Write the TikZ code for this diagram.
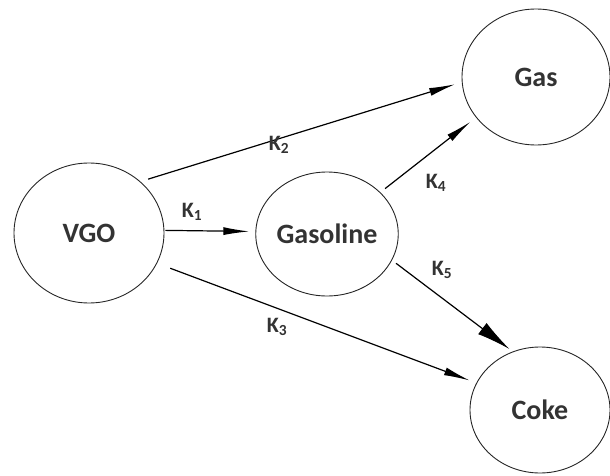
\documentclass[tikz,border=0pt]{standalone}
\usepackage{fontspec}
\setmainfont{Carlito}
\usetikzlibrary{shapes.geometric,arrows.meta}
\definecolor{txt}{HTML}{333333}
\tikzset{
  state/.style={draw=black!85, line width=0.9pt, ellipse, inner sep=0pt, font=\bfseries\fontsize{28}{30}\selectfont, text=txt},
  rate/.style={line width=1.2pt, -{Latex[length=26pt,width=8pt]}},
  klabel/.style={font=\bfseries\fontsize{22}{24}\selectfont, text=txt, inner sep=0pt}
}
\begin{document}
\begin{tikzpicture}[x=1pt,y=-1pt]
\useasboundingbox (0,0) rectangle (610,476);
\node[state, minimum width=150pt, minimum height=140pt] (vgo) at (89,233) {VGO};
\node[state, minimum width=136pt, minimum height=124pt] (gasoline) at (327,234) {Gasoline};
\node[state, minimum width=148pt, minimum height=136pt] (gas) at (536,77) {Gas};
\node[state, minimum width=140pt, minimum height=126pt] (coke) at (540,410) {Coke};

\draw[rate, shorten <=8pt, shorten >=7pt] (vgo.45) -- (gas.184);
\draw[rate, shorten <=1pt, shorten >=6pt] (vgo.2) -- (gasoline.178);
\draw[rate, shorten <=14pt, shorten >=7pt] (vgo.-24.5) -- (coke.157);
\draw[rate, shorten <=6pt, shorten >=7pt] (gasoline.38.8) -- (gas.214.7);
\draw[rate, shorten <=5pt, shorten >=4pt, -{Latex[length=34pt,width=14pt]}] (gasoline.-22.7) -- (coke.115.8);

\node[klabel] (k2) at (279,145) {K\textsubscript{2}};
\node[klabel] (k1) at (192,212) {K\textsubscript{1}};
\node[klabel] (k3) at (277,327) {K\textsubscript{3}};
\node[klabel] (k4) at (436,183) {K\textsubscript{4}};
\node[klabel] (k5) at (442,270) {K\textsubscript{5}};
\end{tikzpicture}
\end{document}
